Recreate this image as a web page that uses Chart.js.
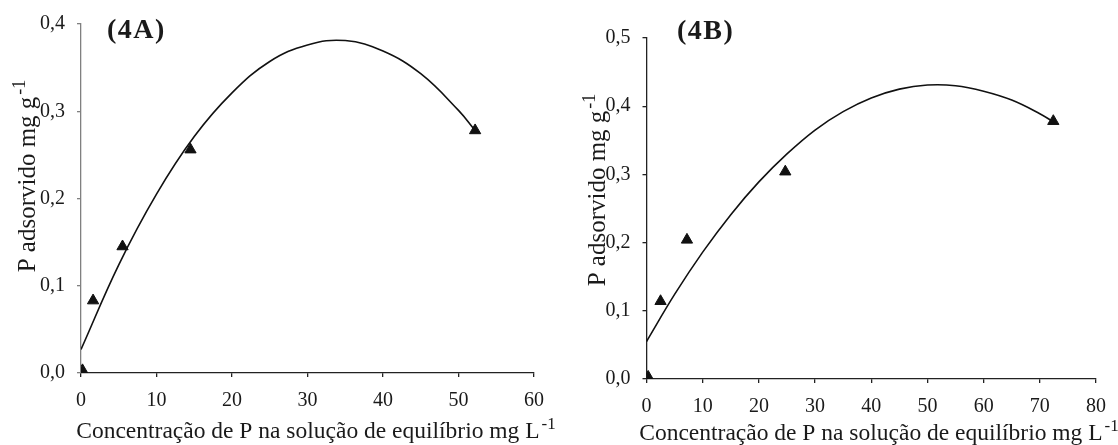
<!DOCTYPE html>
<html>
<head>
<meta charset="utf-8">
<script src="https://cdn.jsdelivr.net/npm/chart.js@4/dist/chart.umd.min.js"></script>
<style>
  html, body { margin: 0; padding: 0; background: #fff; }
  #wrap { position: relative; width: 1118px; height: 445px; }
  canvas { position: absolute; top: 0; }
</style>
</head>
<body>
<div id="wrap">
  <canvas id="chartA" width="559" height="445" style="left:0"></canvas>
  <canvas id="chartB" width="559" height="445" style="left:559px"></canvas>
</div>
<script>
const concA = [0.2, 1.6, 5.5, 14.5, 52.2];
const adsA = [0.003, 0.083, 0.145, 0.256, 0.278];
const fitXA = [0, 5, 10, 15, 20, 25, 30, 35, 40, 45, 50, 52.2];
const fitYA = [0.027, 0.124, 0.205, 0.271, 0.321, 0.357, 0.376, 0.381, 0.369, 0.343, 0.301, 0.278];
const xTicksA = ['0', '10', '20', '30', '40', '50', '60'];
const yTicksA = ['0,0', '0,1', '0,2', '0,3', '0,4'];

// panel 4B
const concB = [0.3, 2.5, 7.2, 24.7, 72.4];
const adsB = [0.003, 0.114, 0.204, 0.304, 0.378];
const fitXB = [0, 5, 10, 15, 20, 25, 30, 35, 40, 45, 50, 55, 60, 65, 70, 72.4];
const fitYB = [0.055, 0.124, 0.186, 0.241, 0.289, 0.330, 0.365, 0.392, 0.412, 0.425, 0.431, 0.430, 0.422, 0.409, 0.389, 0.377];
const xTicksB = ['0', '10', '20', '30', '40', '50', '60', '70', '80'];
const yTicksB = ['0,0', '0,1', '0,2', '0,3', '0,4', '0,5'];

const xTitle = 'Concentração de P na solução de equilíbrio mg L';
const yTitle = 'P adsorvido mg g';
const unitSup = '-1';

const SERIF = '"Liberation Serif", "Times New Roman", serif';
const INK = '#1a1a1a';

function drawWithSup (ctx, main, sup, cx, base, size) {
  ctx.font = size + 'px ' + SERIF;
  const w1 = ctx.measureText(main).width + 2;
  const supSize = Math.round(size * 0.72);
  ctx.font = supSize + 'px ' + SERIF;
  const w2 = ctx.measureText(sup).width;
  const x0 = cx - (w1 + w2) / 2;
  ctx.textAlign = 'left';
  ctx.textBaseline = 'alphabetic';
  ctx.font = size + 'px ' + SERIF;
  ctx.fillText(main, x0, base);
  ctx.font = supSize + 'px ' + SERIF;
  ctx.fillText(sup, x0 + w1, base - size * 0.4);
}

const titlesPlugin = {
  id: 'panelTitles',
  afterDraw (chart, args, o) {
    const {ctx} = chart;
    ctx.save();
    ctx.fillStyle = INK;
    drawWithSup(ctx, xTitle, unitSup, o.xCenter, o.xBase, 23.5);
    ctx.save();
    ctx.translate(o.yBase, o.yCenter);
    ctx.rotate(-Math.PI / 2);
    drawWithSup(ctx, yTitle, unitSup, 0, 0, 25);
    ctx.restore();
    ctx.font = 'bold 28px ' + SERIF;
    ctx.letterSpacing = '1.5px';
    ctx.textAlign = 'left';
    ctx.textBaseline = 'alphabetic';
    ctx.fillText(o.label, o.labelX, o.labelY);
    ctx.restore();
  }
};

function makeChart (id, cfg) {
  const pts = cfg.px.map((x, i) => ({x, y: cfg.py[i]}));
  const fit = cfg.fx.map((x, i) => ({x, y: cfg.fy[i]}));
  const tickFont = {family: SERIF, size: 20};
  return new Chart(document.getElementById(id), {
    type: 'scatter',
    data: {
      datasets: [
        {
          data: fit,
          showLine: true,
          borderColor: '#111',
          borderWidth: 1.6,
          pointRadius: 0,
          tension: 0.4,
          order: 2
        },
        {
          data: pts,
          pointStyle: 'triangle',
          pointRadius: 6.5,
          backgroundColor: '#111',
          borderColor: '#111',
          borderWidth: 1,
          order: 1
        }
      ]
    },
    options: {
      responsive: false,
      animation: false,
      layout: {padding: cfg.padding},
      plugins: {
        legend: {display: false},
        tooltip: {enabled: false},
        panelTitles: cfg.titles
      },
      scales: {
        x: {
          type: 'linear',
          min: 0,
          max: cfg.xMax,
          afterFit: (s) => { s.height = cfg.xHeight; },
          afterBuildTicks: (s) => {
            s.ticks = cfg.xTicks.map((t, i) => ({value: i * 10}));
          },
          border: {color: '#222', width: 1.3},
          grid: {drawOnChartArea: false, tickLength: 4, color: '#222', lineWidth: 1.3},
          ticks: {
            font: tickFont,
            color: INK,
            padding: 12,
            maxRotation: 0,
            callback: (v, i) => cfg.xTicks[i]
          }
        },
        y: {
          type: 'linear',
          min: 0,
          max: cfg.yMax,
          afterFit: (s) => { s.width = cfg.yWidth; },
          afterBuildTicks: (s) => {
            s.ticks = cfg.yTicks.map((t, i) => ({value: i / 10}));
          },
          border: {color: cfg.yAxisColor, width: 1.3},
          grid: {drawOnChartArea: false, tickLength: 4, color: cfg.yAxisColor, lineWidth: 1.3},
          ticks: {
            font: tickFont,
            color: INK,
            padding: 12,
            callback: (v, i) => cfg.yTicks[i]
          }
        }
      }
    },
    plugins: [titlesPlugin]
  });
}

makeChart('chartA', {
  px: concA, py: adsA, fx: fitXA, fy: fitYA,
  xTicks: xTicksA, yTicks: yTicksA,
  xMax: 60, yMax: 0.4,
  yWidth: 81, xHeight: 72,
  padding: {left: 0, top: 23, right: 25, bottom: 0},
  yAxisColor: '#808080',
  titles: {xCenter: 316, xBase: 438, yBase: 35, yCenter: 176, label: '(4A)', labelX: 107, labelY: 38}
});

makeChart('chartB', {
  px: concB, py: adsB, fx: fitXB, fy: fitYB,
  xTicks: xTicksB, yTicks: yTicksB,
  xMax: 80, yMax: 0.5,
  yWidth: 87.5, xHeight: 66,
  padding: {left: 0, top: 38, right: 15, bottom: 0},
  yAxisColor: '#222',
  titles: {xCenter: 320, xBase: 440, yBase: 46, yCenter: 190, label: '(4B)', labelX: 118, labelY: 39}
});
</script>
</body>
</html>
